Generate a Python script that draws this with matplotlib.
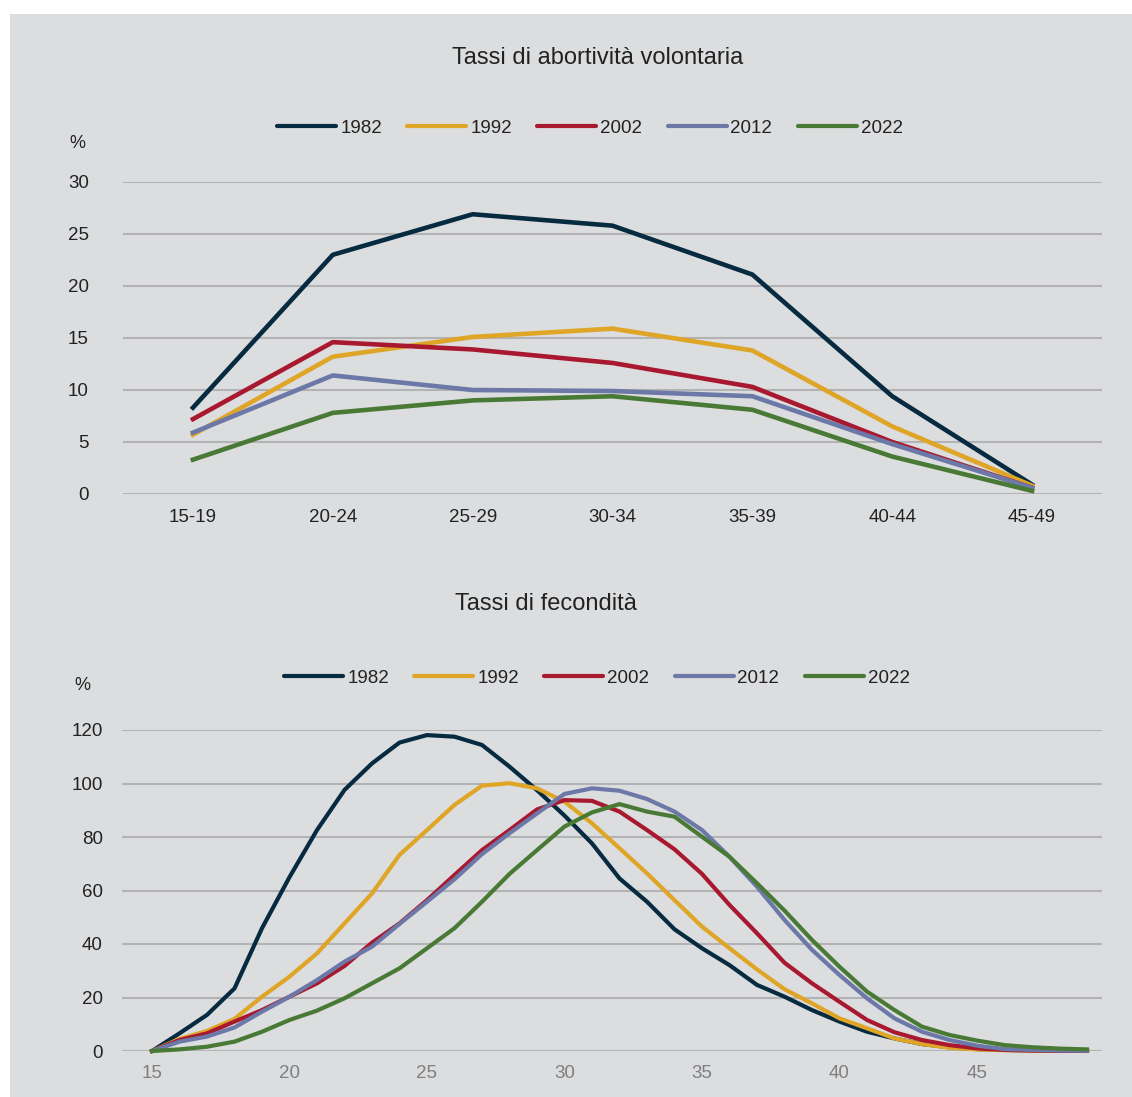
import numpy as np
import matplotlib
matplotlib.use("Agg")
import matplotlib.pyplot as plt
from matplotlib.patches import Rectangle

plt.rcParams['font.family'] = ['Liberation Sans', 'DejaVu Sans']

# data
years = ['1982', '1992', '2002', '2012', '2022']
colors = ['#062A40', '#DFA526', '#A8182F', '#6C78A7', '#497A35']

age_groups = ['15-19', '20-24', '25-29', '30-34', '35-39', '40-44', '45-49']
abort_1982 = [8.3, 23.0, 26.9, 25.8, 21.1, 9.4, 0.9]
abort_1992 = [5.7, 13.2, 15.1, 15.9, 13.8, 6.5, 0.8]
abort_2002 = [7.2, 14.6, 13.9, 12.6, 10.3, 5.0, 0.6]
abort_2012 = [5.9, 11.4, 10.0, 9.9, 9.4, 4.8, 0.6]
abort_2022 = [3.3, 7.8, 9.0, 9.4, 8.1, 3.6, 0.3]

ages = list(range(15, 50))
fert_1982 = [0, 6.6, 13.5, 23.4, 45.9, 65.0, 82.6, 97.6, 107.5, 115.3, 118.1, 117.5,
             114.4, 106.3, 97.5, 88.0, 77.6, 64.5, 55.8, 45.5, 38.4, 32.1, 24.7, 20.3,
             15.3, 11.0, 7.2, 4.7, 2.6, 1.4, 0.7, 0.4, 0.2, 0.1, 0.05]
fert_1992 = [0, 4.5, 7.5, 12.0, 20.3, 27.8, 36.5, 47.7, 58.9, 73.3, 82.6, 92.0,
             99.2, 100.1, 98.2, 93.2, 85.1, 75.8, 66.4, 56.4, 46.5, 38.4, 30.5, 23.1,
             17.8, 12.2, 8.5, 4.7, 2.6, 1.2, 0.6, 0.3, 0.15, 0.1, 0.05]
fert_2002 = [0, 4.1, 6.6, 11.0, 15.3, 20.3, 25.3, 31.8, 40.5, 47.7, 56.4, 65.8,
             75.1, 82.6, 90.3, 93.8, 93.5, 89.5, 82.6, 75.4, 66.2, 54.6, 44.0, 33.0,
             25.3, 18.4, 11.6, 7.0, 4.1, 2.2, 1.0, 0.4, 0.2, 0.1, 0.05]
fert_2012 = [0, 3.5, 5.4, 8.8, 14.7, 20.3, 26.5, 33.4, 39.0, 47.5, 55.8, 64.2,
             73.6, 81.4, 88.8, 96.1, 98.2, 97.3, 94.2, 89.5, 82.6, 72.6, 61.4, 49.0,
             37.8, 28.4, 19.7, 12.2, 7.2, 4.1, 2.0, 0.7, 0.4, 0.2, 0.1]
fert_2022 = [0, 0.6, 1.6, 3.5, 7.2, 11.6, 15.1, 19.7, 25.3, 30.9, 38.4, 45.9,
             55.8, 66.2, 75.1, 83.9, 89.2, 92.3, 89.5, 87.6, 80.1, 72.6, 62.7, 52.5,
             41.5, 31.5, 22.2, 15.3, 9.1, 6.0, 3.9, 2.2, 1.4, 0.9, 0.6]

abort = [abort_1982, abort_1992, abort_2002, abort_2012, abort_2022]
fert = [fert_1982, fert_1992, fert_2002, fert_2012, fert_2022]

W, H = 1132, 1097
bg = '#DCDDDF'
grid_col = '#B3B3B5'
txt = '#222222'

fig = plt.figure(figsize=(W / 100, H / 100), dpi=100, facecolor='white')
fig.patches.append(Rectangle((10 / W, 0), 1, 1 - 14 / H, transform=fig.transFigure,
                             facecolor=bg, edgecolor='none', zorder=-10))


def fx(px):
    return px / W


def fy(py):
    return 1 - py / H


def style_axis(ax, ypad, xcol, xpad):
    ax.set_facecolor('none')
    for s in ax.spines.values():
        s.set_visible(False)
    ax.yaxis.grid(True, color=grid_col, linewidth=1.5)
    ax.set_axisbelow(True)
    ax.tick_params(axis='y', length=0, pad=ypad, labelsize=13.5, labelcolor=txt)
    ax.tick_params(axis='x', length=0, pad=xpad, labelsize=13.5, labelcolor=xcol)


def add_legend(ax, cx, cy):
    leg = ax.legend(loc='center', bbox_to_anchor=(fx(cx), fy(cy)),
                    bbox_transform=fig.transFigure, ncol=5, frameon=False,
                    fontsize=13.5, handlelength=3.15, handletextpad=0.2,
                    columnspacing=1.36, borderpad=0, borderaxespad=0)
    for t in leg.get_texts():
        t.set_color(txt)
    for h in leg.get_lines():
        h.set_linewidth(3.0)
        h.set_solid_capstyle('round')


# top: abortion rates by age group
ax1 = fig.add_axes([fx(123), fy(494), fx(1102) - fx(123), fy(182) - fy(494)])
xpos = np.arange(len(age_groups))
for vals, yr, c in zip(abort, years, colors):
    ax1.plot(xpos, vals, color=c, linewidth=3.3, label=yr, clip_on=False)
ax1.set_xlim(-0.5, len(age_groups) - 0.5)
ax1.set_ylim(0, 30)
ax1.set_yticks(range(0, 31, 5))
ax1.set_xticks(xpos)
ax1.set_xticklabels(age_groups)
style_axis(ax1, 24.5, txt, 11)
add_legend(ax1, 590, 128)
fig.text(fx(598), fy(58), 'Tassi di abortività volontaria', ha='center', va='center',
         fontsize=17, color=txt)
fig.text(fx(77), fy(143), '%', ha='center', va='center', fontsize=13, color=txt)

# bottom: fertility rates by single year of age
ax2 = fig.add_axes([fx(122), fy(1051), fx(1102) - fx(122), fy(730) - fy(1051)])
for vals, yr, c in zip(fert, years, colors):
    ax2.plot(ages, vals, color=c, linewidth=3.0, label=yr, clip_on=False)
ax2.set_xlim(15 - 30 / 27.5, 15 + 950 / 27.5)
ax2.set_ylim(0, 120)
ax2.set_yticks(range(0, 121, 20))
ax2.set_xticks(range(15, 50, 5))
style_axis(ax2, 13.7, '#7F7F7F', 10)
add_legend(ax2, 597, 678)
fig.text(fx(546), fy(604), 'Tassi di fecondità', ha='center', va='center',
         fontsize=17, color=txt)
fig.text(fx(82), fy(686), '%', ha='center', va='center', fontsize=13, color=txt)

fig.savefig('out.png', dpi=100, facecolor='white')
